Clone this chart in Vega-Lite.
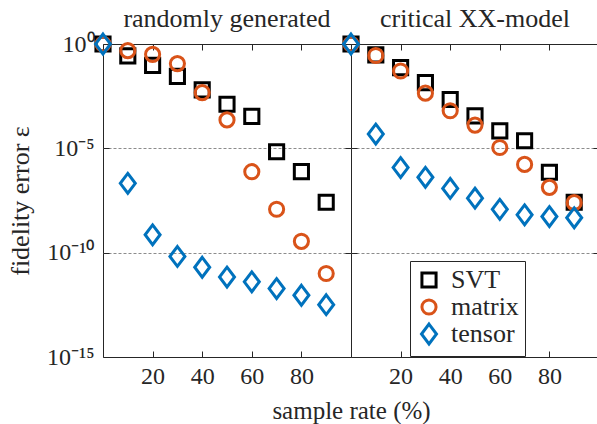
{
  "$schema": "https://vega.github.io/schema/vega-lite/v6.json",
  "padding": {"left": 6, "top": 5, "right": 0, "bottom": 0},
  "background": "white",
  "bounds": "flush",
  "datasets": {
    "pts": [
      {"panel": "random", "method": "SVT", "rate": 0, "error": 1},
      {"panel": "random", "method": "SVT", "rate": 10, "error": 0.27},
      {"panel": "random", "method": "SVT", "rate": 20, "error": 0.095},
      {"panel": "random", "method": "SVT", "rate": 30, "error": 0.028},
      {"panel": "random", "method": "SVT", "rate": 40, "error": 0.0063},
      {"panel": "random", "method": "SVT", "rate": 50, "error": 0.0013},
      {"panel": "random", "method": "SVT", "rate": 60, "error": 0.00034},
      {"panel": "random", "method": "SVT", "rate": 70, "error": 6.9e-6},
      {"panel": "random", "method": "SVT", "rate": 80, "error": 7.6e-7},
      {"panel": "random", "method": "SVT", "rate": 90, "error": 2.6e-8},
      {"panel": "random", "method": "matrix", "rate": 0, "error": 1},
      {"panel": "random", "method": "matrix", "rate": 10, "error": 0.48},
      {"panel": "random", "method": "matrix", "rate": 20, "error": 0.32},
      {"panel": "random", "method": "matrix", "rate": 30, "error": 0.115},
      {"panel": "random", "method": "matrix", "rate": 40, "error": 0.0047},
      {"panel": "random", "method": "matrix", "rate": 50, "error": 0.00023},
      {"panel": "random", "method": "matrix", "rate": 60, "error": 7.6e-7},
      {"panel": "random", "method": "matrix", "rate": 70, "error": 1.2e-8},
      {"panel": "random", "method": "matrix", "rate": 80, "error": 3.5e-10},
      {"panel": "random", "method": "matrix", "rate": 90, "error": 1.0e-11},
      {"panel": "random", "method": "tensor", "rate": 0, "error": 1},
      {"panel": "random", "method": "tensor", "rate": 10, "error": 2.1e-7},
      {"panel": "random", "method": "tensor", "rate": 20, "error": 7.2e-10},
      {"panel": "random", "method": "tensor", "rate": 30, "error": 6.6e-11},
      {"panel": "random", "method": "tensor", "rate": 40, "error": 2.0e-11},
      {"panel": "random", "method": "tensor", "rate": 50, "error": 6.8e-12},
      {"panel": "random", "method": "tensor", "rate": 60, "error": 4.0e-12},
      {"panel": "random", "method": "tensor", "rate": 70, "error": 1.9e-12},
      {"panel": "random", "method": "tensor", "rate": 80, "error": 9.1e-13},
      {"panel": "random", "method": "tensor", "rate": 90, "error": 3.2e-13},
      {"panel": "xx", "method": "SVT", "rate": 0, "error": 1},
      {"panel": "xx", "method": "SVT", "rate": 10, "error": 0.30},
      {"panel": "xx", "method": "SVT", "rate": 20, "error": 0.074},
      {"panel": "xx", "method": "SVT", "rate": 30, "error": 0.014},
      {"panel": "xx", "method": "SVT", "rate": 40, "error": 0.0022},
      {"panel": "xx", "method": "SVT", "rate": 50, "error": 0.00036},
      {"panel": "xx", "method": "SVT", "rate": 60, "error": 6.9e-5},
      {"panel": "xx", "method": "SVT", "rate": 70, "error": 2.3e-5},
      {"panel": "xx", "method": "SVT", "rate": 80, "error": 7.1e-7},
      {"panel": "xx", "method": "SVT", "rate": 90, "error": 2.6e-8},
      {"panel": "xx", "method": "matrix", "rate": 0, "error": 1},
      {"panel": "xx", "method": "matrix", "rate": 10, "error": 0.28},
      {"panel": "xx", "method": "matrix", "rate": 20, "error": 0.051},
      {"panel": "xx", "method": "matrix", "rate": 30, "error": 0.0044},
      {"panel": "xx", "method": "matrix", "rate": 40, "error": 0.00063},
      {"panel": "xx", "method": "matrix", "rate": 50, "error": 0.00013},
      {"panel": "xx", "method": "matrix", "rate": 60, "error": 1.1e-5},
      {"panel": "xx", "method": "matrix", "rate": 70, "error": 1.7e-6},
      {"panel": "xx", "method": "matrix", "rate": 80, "error": 1.35e-7},
      {"panel": "xx", "method": "matrix", "rate": 90, "error": 2.5e-8},
      {"panel": "xx", "method": "tensor", "rate": 0, "error": 1},
      {"panel": "xx", "method": "tensor", "rate": 10, "error": 4.8e-5},
      {"panel": "xx", "method": "tensor", "rate": 20, "error": 1.2e-6},
      {"panel": "xx", "method": "tensor", "rate": 30, "error": 4.1e-7},
      {"panel": "xx", "method": "tensor", "rate": 40, "error": 1.2e-7},
      {"panel": "xx", "method": "tensor", "rate": 50, "error": 4.1e-8},
      {"panel": "xx", "method": "tensor", "rate": 60, "error": 1.2e-8},
      {"panel": "xx", "method": "tensor", "rate": 70, "error": 6.5e-9},
      {"panel": "xx", "method": "tensor", "rate": 80, "error": 5.4e-9},
      {"panel": "xx", "method": "tensor", "rate": 90, "error": 4.7e-9}
    ]
  },
  "config": {
    "font": "Liberation Serif",
    "view": {"stroke": "#262626", "strokeWidth": 1},
    "concat": {"spacing": 0},
    "axis": {
      "labelFont": "Liberation Serif",
      "titleFont": "Liberation Serif",
      "labelFontSize": 24,
      "titleFontSize": 26,
      "titleFontWeight": "normal",
      "labelColor": "#262626",
      "titleColor": "#262626",
      "tickColor": "#262626",
      "domain": false,
      "grid": false,
      "tickSize": -6
    },
    "title": {"font": "Liberation Serif", "fontSize": 26, "fontWeight": "normal", "color": "#262626"},
    "legend": {
      "orient": "none",
      "legendX": 307,
      "legendY": 217,
      "title": null,
      "strokeColor": "#262626",
      "fillColor": "white",
      "padding": 6,
      "labelFont": "Liberation Serif",
      "labelFontSize": 26,
      "labelColor": "#262626",
      "symbolStrokeWidth": 3,
      "symbolSize": 200,
      "rowPadding": -7,
      "labelOffset": 9
    }
  },
  "hconcat": [
    {
      "width": 248,
      "height": 313,
      "title": {"text": "randomly generated", "offset": -4},
      "data": {"name": "pts"},
      "transform": [{"filter": "datum.panel === 'random'"}],
      "layer": [
        {
          "mark": {"type": "point", "filled": false, "clip": false, "strokeWidth": 3, "size": 200, "opacity": 1},
          "encoding": {
            "x": {"field": "rate", "type": "quantitative", "scale": {"domain": [0, 100], "nice": false},
                  "axis": {"orient": "bottom", "values": [20, 40, 60, 80], "title": "sample rate (%)", "titleX": 248, "titleFontSize": 25, "labelPadding": 13, "titlePadding": 10}},
            "y": {"field": "error", "type": "quantitative", "scale": {"type": "log", "domain": [1e-15, 1], "nice": false},
                  "axis": {"orient": "left", "values": [1, 1e-5, 1e-10, 1e-15], "title": "fidelity error ε", "labelPadding": 15, "titlePadding": 13,
                           "labelExpr": "datum.value >= 0.5 ? '10⁰' : datum.value > 1e-7 ? '10⁻⁵' : datum.value > 1e-12 ? '10⁻¹⁰' : '10⁻¹⁵'"}},
            "shape": {"field": "method", "type": "nominal", "scale": {"domain": ["SVT", "matrix", "tensor"], "range": ["square", "circle", "M0,-1.4L1.06,0L0,1.4L-1.06,0Z"]}},
            "color": {"field": "method", "type": "nominal", "scale": {"domain": ["SVT", "matrix", "tensor"], "range": ["#000000", "#D95319", "#0072BD"]}}
          }
        },
        {
          "mark": {"type": "point", "opacity": 0},
          "encoding": {
            "x": {"field": "rate", "type": "quantitative", "axis": {"orient": "top", "values": [20, 40, 60, 80], "labels": false, "title": null}},
            "y": {"field": "error", "type": "quantitative", "axis": {"orient": "right", "values": [1e-5, 1e-10], "labels": false, "title": null, "grid": true, "gridDash": [3, 2], "gridColor": "#8c8c8c", "gridWidth": 1}}
          }
        }
      ]
    },
    {
      "width": 248,
      "height": 313,
      "title": {"text": "critical XX-model", "offset": -4},
      "data": {"name": "pts"},
      "transform": [{"filter": "datum.panel === 'xx'"}],
      "layer": [
        {
          "mark": {"type": "point", "filled": false, "clip": false, "strokeWidth": 3, "size": 200, "opacity": 1},
          "encoding": {
            "x": {"field": "rate", "type": "quantitative", "scale": {"domain": [0, 100], "nice": false},
                  "axis": {"orient": "bottom", "values": [20, 40, 60, 80], "title": null, "labelPadding": 13}},
            "y": {"field": "error", "type": "quantitative", "scale": {"type": "log", "domain": [1e-15, 1], "nice": false},
                  "axis": {"orient": "left", "values": [1e-5, 1e-10], "labels": false, "title": null}},
            "shape": {"field": "method", "type": "nominal", "scale": {"domain": ["SVT", "matrix", "tensor"], "range": ["square", "circle", "M0,-1.4L1.06,0L0,1.4L-1.06,0Z"]}},
            "color": {"field": "method", "type": "nominal", "scale": {"domain": ["SVT", "matrix", "tensor"], "range": ["#000000", "#D95319", "#0072BD"]}}
          }
        },
        {
          "mark": {"type": "point", "opacity": 0},
          "encoding": {
            "x": {"field": "rate", "type": "quantitative", "axis": {"orient": "top", "values": [20, 40, 60, 80], "labels": false, "title": null}},
            "y": {"field": "error", "type": "quantitative", "axis": {"orient": "right", "values": [1e-5, 1e-10], "labels": false, "title": null, "grid": true, "gridDash": [3, 2], "gridColor": "#8c8c8c", "gridWidth": 1}}
          }
        }
      ]
    }
  ]
}
